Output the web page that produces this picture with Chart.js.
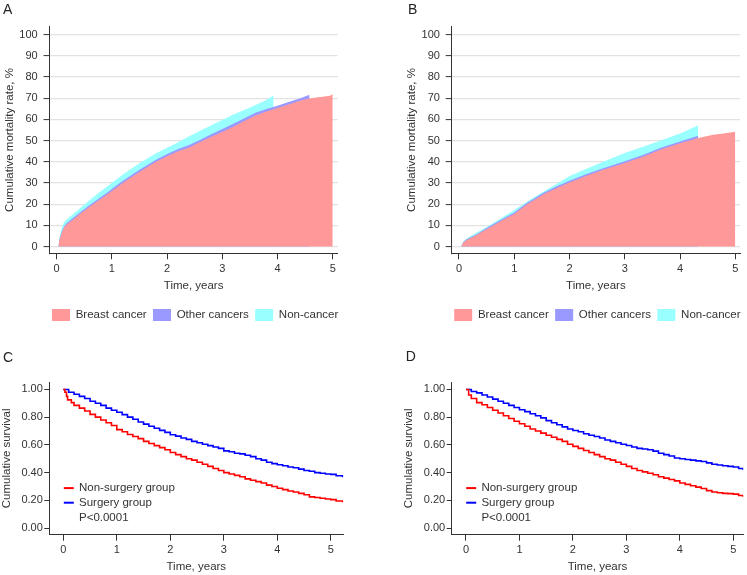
<!DOCTYPE html>
<html><head><meta charset="utf-8">
<script src="https://cdn.jsdelivr.net/npm/chart.js@4.4.1/dist/chart.umd.min.js"></script>
<style>
html,body{margin:0;padding:0;background:#fff;width:747px;height:575px;overflow:hidden;}
.p{position:absolute;}
</style></head><body>
<div class="p" style="left:0px;top:0px;width:370px;height:331px"><canvas id="cA"></canvas></div>
<div class="p" style="left:370px;top:0px;width:377px;height:331px"><canvas id="cB"></canvas></div>
<div class="p" style="left:0px;top:347.6px;width:370px;height:227.4px"><canvas id="cC"></canvas></div>
<div class="p" style="left:370px;top:346.6px;width:377px;height:228.4px"><canvas id="cD"></canvas></div>
<script>
// ---------- DATA ----------
const areaLabels = ['Breast cancer', 'Other cancers', 'Non-cancer'];
const yearTicks = [0, 1, 2, 3, 4, 5];
const mortalityTicks = [0, 10, 20, 30, 40, 50, 60, 70, 80, 90, 100];
const survivalTicks = [0, 0.2, 0.4, 0.6, 0.8, 1.0];

// Panel A (cumulative mortality %, stacked bands drawn as cumulative curves)
const aBreastT = [0.03,0.05,0.09,0.13,0.18,0.3,0.45,0.6,0.75,0.9,1.05,1.2,1.35,1.5,1.65,1.8,2.0,2.2,2.4,2.6,2.8,3.0,3.2,3.4,3.6,3.8,4.0,4.2,4.4,4.55,4.7,4.85,4.95,5.0];
const aBreastY = [0,3,6.2,8.8,10.4,12.8,15.9,18.8,21.6,24.3,27.2,30,32.7,35.2,37.6,40,42.6,45,46.8,49.3,51.8,54.1,56.6,59.2,61.9,63.8,65.4,67.1,68.8,69.8,70.3,70.8,71.2,72];
const aOtherT = [0.03,0.05,0.09,0.13,0.18,0.3,0.45,0.6,0.75,0.9,1.05,1.2,1.35,1.5,1.65,1.8,2.0,2.2,2.4,2.6,2.8,3.0,3.2,3.4,3.6,3.8,4.0,4.2,4.4,4.58];
const aOtherY = [0,3.3,6.8,9.3,11,13.6,16.6,19.6,22.4,25.2,28.2,31,33.6,36.2,38.6,41,43.7,46,47.9,50.4,53,55.5,58,60.6,63.1,64.9,66.5,68.2,69.9,71.6];
const aNonT = [0.03,0.05,0.09,0.13,0.18,0.3,0.45,0.6,0.75,0.9,1.05,1.2,1.35,1.5,1.65,1.8,2.0,2.2,2.4,2.6,2.8,3.0,3.2,3.4,3.6,3.8,3.93];
const aNonY = [0,4,8.6,11.3,12.8,15.3,18.7,22,25.1,28.1,31.1,34,36.7,39.3,41.7,44,46.6,49.2,52,54.6,57.2,59.7,62.3,64.5,66.8,69.2,71.4];

// Panel B
const bBreastT = [0.04,0.08,0.14,0.32,0.5,0.8,1.0,1.22,1.53,1.77,2.0,2.31,2.61,3.0,3.34,3.64,4.0,4.33,4.6,4.72,5.0];
const bBreastY = [0,1.9,3.1,5.4,8.2,12.6,15.3,19.7,24.7,27.6,30.2,33.4,36.2,39.4,42.5,45.7,48.8,51.2,52.8,53.1,54.2];
const bOtherT = [0.04,0.08,0.14,0.32,0.5,0.8,1.0,1.22,1.53,1.77,2.0,2.31,2.61,3.0,3.34,3.64,4.0,4.33];
const bOtherY = [0,2.1,3.4,5.8,8.7,13.2,16,20.4,25.4,28.4,31,34.2,37,40.3,43.3,46.5,49.6,52.3];
const bNonT = [0.04,0.08,0.14,0.32,0.5,0.8,1.0,1.25,1.5,1.77,2.0,2.5,3.0,3.5,4.0,4.33];
const bNonY = [0,2.5,3.9,6.6,9.2,14,17.2,21.5,25.5,29.6,33.3,38.8,44.2,48.6,53.3,57.3];

// Panel C (Kaplan-Meier)
const kmLabels = ['Non-surgery group', 'Surgery group'];
const pNote = 'P<0.0001';
const cNonT = [0,0.03,0.06,0.08,0.15,0.2,0.3,0.4,0.5,0.6,0.7,0.8,0.9,1.0,1.1,1.2,1.3,1.4,1.5,1.6,1.7,1.8,1.9,2.0,2.1,2.2,2.3,2.4,2.5,2.6,2.7,2.8,2.9,3.0,3.1,3.2,3.3,3.4,3.5,3.6,3.7,3.8,3.9,4.0,4.1,4.2,4.3,4.4,4.5,4.6,4.7,4.8,4.9,5.0,5.1,5.22];
const cNonS = [1.0,0.98,0.95,0.925,0.905,0.885,0.865,0.845,0.82,0.80,0.78,0.76,0.74,0.71,0.695,0.675,0.66,0.645,0.625,0.61,0.595,0.58,0.565,0.545,0.53,0.515,0.50,0.49,0.475,0.46,0.445,0.43,0.415,0.40,0.39,0.38,0.37,0.355,0.345,0.335,0.325,0.31,0.30,0.287,0.277,0.267,0.26,0.25,0.24,0.225,0.22,0.215,0.21,0.205,0.195,0.187];
const cSurT = [0,0.1,0.2,0.3,0.4,0.5,0.6,0.7,0.8,0.9,1.0,1.1,1.2,1.3,1.4,1.5,1.6,1.7,1.8,1.9,2.0,2.1,2.2,2.3,2.4,2.5,2.6,2.7,2.8,2.9,3.0,3.1,3.2,3.3,3.4,3.5,3.6,3.7,3.8,3.9,4.0,4.1,4.2,4.3,4.4,4.5,4.6,4.7,4.8,4.9,5.0,5.1,5.22];
const cSurS = [1.0,0.98,0.965,0.95,0.935,0.915,0.90,0.885,0.865,0.85,0.835,0.818,0.80,0.785,0.765,0.75,0.735,0.72,0.705,0.69,0.673,0.663,0.65,0.64,0.625,0.615,0.605,0.595,0.585,0.575,0.557,0.55,0.54,0.535,0.525,0.515,0.50,0.49,0.475,0.465,0.457,0.45,0.44,0.435,0.425,0.415,0.41,0.40,0.395,0.39,0.387,0.377,0.367];

// Panel D (Kaplan-Meier)
const dNonT = [0,0.05,0.1,0.2,0.3,0.4,0.5,0.6,0.7,0.8,0.9,1.0,1.1,1.2,1.3,1.4,1.5,1.6,1.7,1.8,1.9,2.0,2.1,2.2,2.3,2.4,2.5,2.6,2.7,2.8,2.9,3.0,3.1,3.2,3.3,3.4,3.5,3.6,3.7,3.8,3.9,4.0,4.1,4.2,4.3,4.4,4.5,4.6,4.7,4.8,4.9,5.0,5.1,5.18];
const dNonS = [1.0,0.96,0.935,0.905,0.89,0.87,0.85,0.83,0.81,0.79,0.77,0.752,0.735,0.715,0.70,0.685,0.67,0.655,0.64,0.625,0.605,0.589,0.575,0.56,0.545,0.53,0.515,0.50,0.49,0.475,0.46,0.445,0.43,0.415,0.405,0.395,0.385,0.37,0.36,0.35,0.34,0.325,0.315,0.305,0.295,0.285,0.27,0.26,0.255,0.25,0.248,0.245,0.235,0.225];
const dSurT = [0,0.1,0.2,0.3,0.4,0.5,0.6,0.7,0.8,0.9,1.0,1.1,1.2,1.3,1.4,1.5,1.6,1.7,1.8,1.9,2.0,2.1,2.2,2.3,2.4,2.5,2.6,2.7,2.8,2.9,3.0,3.1,3.2,3.3,3.4,3.5,3.6,3.7,3.8,3.9,4.0,4.1,4.2,4.3,4.4,4.5,4.6,4.7,4.8,4.9,5.0,5.1,5.18];
const dSurS = [1.0,0.985,0.975,0.96,0.945,0.93,0.915,0.90,0.885,0.87,0.853,0.84,0.825,0.81,0.795,0.775,0.76,0.745,0.73,0.715,0.704,0.695,0.68,0.67,0.66,0.65,0.635,0.625,0.615,0.605,0.596,0.585,0.575,0.57,0.565,0.555,0.54,0.53,0.52,0.505,0.50,0.495,0.49,0.485,0.48,0.47,0.46,0.455,0.45,0.445,0.44,0.43,0.42];

// ---------- STYLE ----------
const FONT = "'Liberation Sans', Arial, Helvetica, sans-serif";
const TXT = '#333333';
const areaColors = ['#ff9999', '#9999ff', '#99ffff'];
const kmColors = ['#ff0000', '#0000ff'];
Chart.defaults.font.family = FONT;
Chart.defaults.color = TXT;
Chart.defaults.animation = false;

const pts = (t, y) => t.map((x, i) => ({x: x, y: y[i]}));
const setTicks = vals => scale => { scale.ticks = vals.map(v => ({value: v})); };
const fixW = w => scale => { scale.width = w; };
const fixH = h => scale => { scale.height = h; };

// legend below panels A and B, drawn from the dataset labels/colours
const areaLegend = {
  id: 'areaLegend',
  afterDraw(chart) {
    const {ctx, chartArea: a} = chart;
    ctx.save();
    ctx.font = '11.5px ' + FONT;
    ctx.textBaseline = 'middle';
    ctx.textAlign = 'left';
    const cy = a.bottom + 61.7;
    let x = a.left + 2.5;
    chart.data.datasets.forEach(d => {
      ctx.fillStyle = d.backgroundColor;
      ctx.fillRect(x, cy - 6, 18, 12);
      ctx.fillStyle = TXT;
      ctx.fillText(d.label, x + 23.7, cy);
      x += 23.7 + ctx.measureText(d.label).width + 6.3;
    });
    ctx.restore();
  }
};

function areaChart(id, letter, series, c) {
  new Chart(document.getElementById(id), {
    type: 'line',
    data: {datasets: series.map((s, i) => ({
      label: areaLabels[i], data: pts(s[0], s[1]),
      backgroundColor: areaColors[i], borderColor: areaColors[i], borderWidth: 0,
      fill: 'origin', pointRadius: 0, tension: 0
    }))},
    options: {
      responsive: true, maintainAspectRatio: false, animation: false,
      layout: {padding: {left: c.padL, right: c.padR, top: 0, bottom: 28}},
      plugins: {
        title: {display: true, text: letter, align: 'start', color: '#222',
          font: {size: 14, weight: 'normal'}, padding: {top: 2, bottom: 7.9}},
        legend: {display: false},
        tooltip: {enabled: false}
      },
      scales: {
        x: {type: 'linear', min: c.xmin, max: c.xmax,
          afterBuildTicks: setTicks(yearTicks), afterFit: fixH(49.7),
          grid: {display: true, drawOnChartArea: false, tickLength: 6, tickColor: TXT, tickWidth: 1},
          border: {display: true, color: TXT, width: 1},
          ticks: {font: {size: 11}, color: TXT, padding: 3, maxRotation: 0, autoSkip: false},
          title: {display: true, text: 'Time, years', color: TXT, font: {size: 11.5}, padding: {top: 0, bottom: 10.4}}},
        y: {type: 'linear', min: -3.21, max: 103.78,
          afterBuildTicks: setTicks(mortalityTicks), afterFit: fixW(c.yW),
          grid: {display: true, color: '#e2e2e2', lineWidth: 1.2, tickLength: 6, tickColor: TXT, tickWidth: 1},
          border: {display: true, color: TXT, width: 1},
          ticks: {font: {size: 11}, color: TXT, padding: 5.8, autoSkip: false},
          title: {display: true, text: 'Cumulative mortality rate, %', color: TXT, font: {size: 11.5}, padding: {top: c.yTP, bottom: 0}}}
      }
    },
    plugins: [areaLegend]
  });
}

const kmLegend = {
  id: 'kmLegend',
  afterDraw(chart, args, opts) {
    const {ctx, chartArea: a} = chart;
    ctx.save();
    ctx.font = '11.5px ' + FONT;
    ctx.textBaseline = 'middle';
    ctx.textAlign = 'left';
    const rows = [a.bottom - 46.6, a.bottom - 32, a.bottom - 16.6];
    chart.data.datasets.forEach((d, i) => {
      ctx.strokeStyle = d.borderColor; ctx.lineWidth = 2;
      ctx.beginPath(); ctx.moveTo(a.left + 14.5, rows[i]); ctx.lineTo(a.left + 24.5, rows[i]); ctx.stroke();
      ctx.fillStyle = TXT; ctx.fillText(d.label, a.left + 29.7, rows[i]);
    });
    ctx.fillStyle = TXT; ctx.fillText(opts.note, a.left + 29.7, rows[2]);
    ctx.restore();
  }
};

function kmChart(id, letter, series, c) {
  new Chart(document.getElementById(id), {
    type: 'line',
    data: {datasets: series.map((s, i) => ({
      label: kmLabels[i], data: pts(s[0], s[1]),
      borderColor: kmColors[i], backgroundColor: kmColors[i], borderWidth: 1.6,
      fill: false, pointRadius: 0, stepped: true, tension: 0
    }))},
    options: {
      responsive: true, maintainAspectRatio: false, animation: false,
      layout: {padding: {left: c.padL, right: c.padR, top: 0, bottom: 0}},
      plugins: {
        title: {display: true, text: letter, align: 'start', color: '#222',
          font: {size: 14, weight: 'normal'}, padding: {top: 2, bottom: c.titleB}},
        legend: {display: false},
        tooltip: {enabled: false},
        kmLegend: {note: pNote}
      },
      scales: {
        x: {type: 'linear', min: c.xmin, max: c.xmax,
          afterBuildTicks: setTicks(yearTicks), afterFit: fixH(40.7),
          grid: {display: true, drawOnChartArea: false, tickLength: 6, tickColor: TXT, tickWidth: 1},
          border: {display: true, color: TXT, width: 1},
          ticks: {font: {size: 11}, color: TXT, padding: 3, maxRotation: 0, autoSkip: false},
          title: {display: true, text: 'Time, years', color: TXT, font: {size: 11.5}, padding: {top: 0, bottom: 1.4}}},
        y: {type: 'linear', min: -0.048, max: 1.053,
          afterBuildTicks: setTicks(survivalTicks), afterFit: fixW(c.yW),
          grid: {display: true, drawOnChartArea: false, tickLength: 5, tickColor: TXT, tickWidth: 1},
          border: {display: true, color: TXT, width: 1},
          ticks: {font: {size: 11}, color: TXT, padding: 1.5, autoSkip: false, callback: v => v.toFixed(2)},
          title: {display: true, text: 'Cumulative survival', color: TXT, font: {size: 11.5}, padding: {top: c.yTP, bottom: 0}}}
      }
    },
    plugins: [kmLegend]
  });
}

areaChart('cA', 'A', [[aBreastT, aBreastY], [aOtherT, aOtherY], [aNonT, aNonY]],
  {padL: 3, padR: 32.3, yW: 46.5, xmin: -0.130, xmax: 5.09, yTP: 0.1});
areaChart('cB', 'B', [[bBreastT, bBreastY], [bOtherT, bOtherY], [bNonT, bNonY]],
  {padL: 38, padR: 7, yW: 43.7, xmin: -0.132, xmax: 5.085, yTP: -3.2});
kmChart('cC', 'C', [[cNonT, cNonS], [cSurT, cSurS]],
  {padL: 3, padR: 26.7, yW: 46.3, xmin: -0.262, xmax: 5.234, yTP: -2.7, titleB: 15.3});
kmChart('cD', 'D', [[dNonT, dNonS], [dSurT, dSurS]],
  {padL: 35.7, padR: 3.7, yW: 46, xmin: -0.267, xmax: 5.187, yTP: -3.8, titleB: 16.3});
</script>
</body></html>
